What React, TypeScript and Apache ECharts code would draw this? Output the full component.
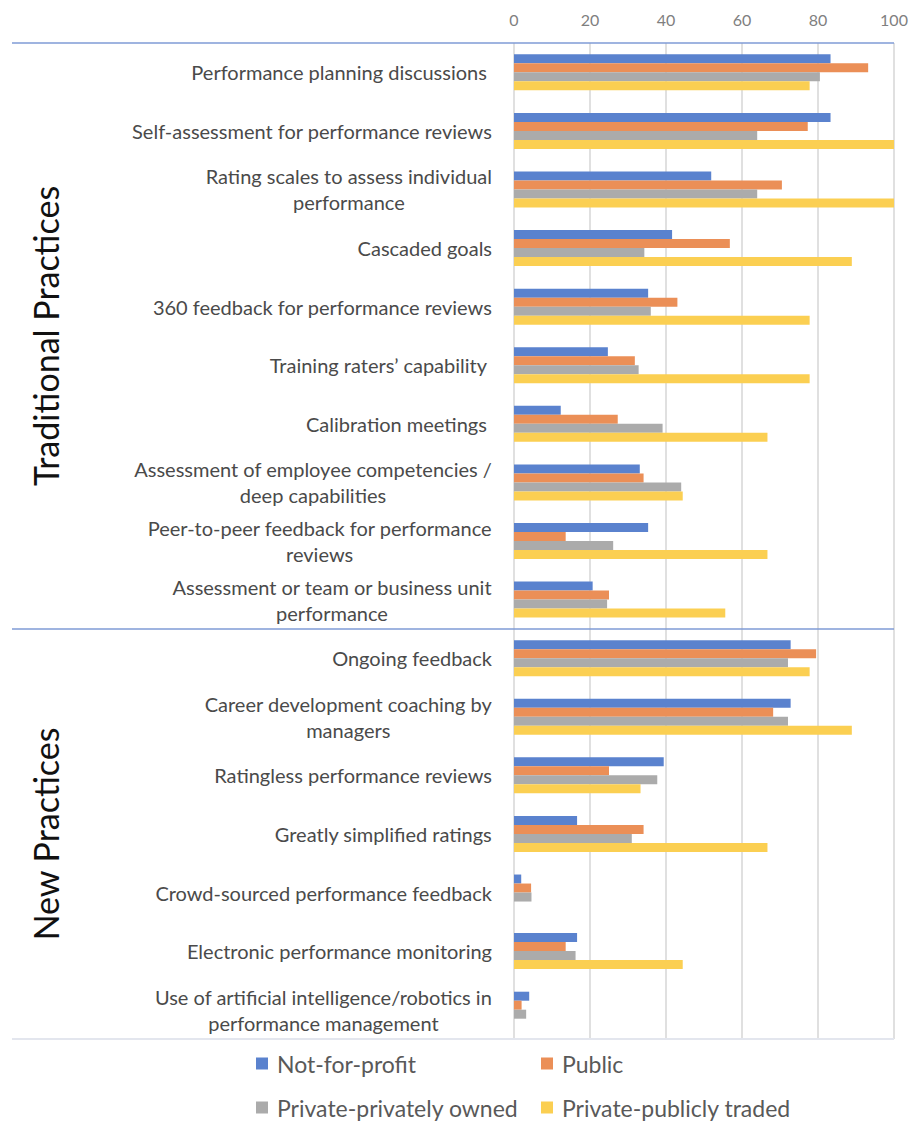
import React, { useEffect, useRef } from "react";
import * as echarts from "echarts";

// Practice names, top to bottom
const categories: string[] = [
  "Performance planning discussions ",
  "Self-assessment for performance reviews",
  "Rating scales to assess individual\nperformance",
  "Cascaded goals",
  "360 feedback for performance reviews",
  "Training raters’ capability ",
  "Calibration meetings ",
  "Assessment of employee competencies /\ndeep capabilities",
  "Peer-to-peer feedback for performance\nreviews",
  "Assessment or team or business unit\nperformance",
  "Ongoing feedback",
  "Career development coaching by\nmanagers",
  "Ratingless performance reviews",
  "Greatly simplified ratings",
  "Crowd-sourced performance feedback",
  "Electronic performance monitoring",
  "Use of artificial intelligence/robotics in\nperformance management",
];

// Number of practices in each group (traditional first, then new)
const groupNames: string[] = ["Traditional Practices", "New Practices"];
const groupSizes: number[] = [10, 7];

const seriesNames: string[] = [
  "Not-for-profit",
  "Public",
  "Private-privately owned",
  "Private-publicly traded",
];

// Percent of organisations using each practice
const notForProfit: number[] = [83.3, 83.3, 51.9, 41.6, 35.3, 24.7, 12.3, 33.1, 35.3, 20.7, 72.8, 72.8, 39.4, 16.6, 1.9, 16.6, 4.0];
const publicSector: number[] = [93.2, 77.3, 70.5, 56.8, 43.0, 31.8, 27.3, 34.1, 13.6, 25.0, 79.5, 68.2, 25.0, 34.1, 4.5, 13.6, 2.0];
const privatelyOwned: number[] = [80.5, 64.0, 64.0, 34.3, 36.0, 32.8, 39.1, 44.0, 26.1, 24.5, 72.1, 72.1, 37.7, 31.0, 4.6, 16.2, 3.2];
const publiclyTraded: number[] = [77.8, 100, 100, 88.9, 77.8, 77.8, 66.7, 44.4, 66.7, 55.6, 77.8, 88.9, 33.3, 66.7, 0, 44.4, 0];

const xTicks: number[] = [0, 20, 40, 60, 80, 100];

const colors = ["#5A82CE", "#EB8F57", "#ABABAB", "#FBCF52"];
const FONT = "Lato, 'Open Sans', sans-serif";
const TEXT = "#4a4a4a";

// Legend slots: 2 x 2 grid (column left edge, row top)
const legendLeft = [256, 541, 256, 541];
const legendTop = [1052, 1052, 1096, 1096];
const legendOrder = [0, 1, 2, 3];

export default function App() {
  const ref = useRef<HTMLDivElement>(null);

  useEffect(() => {
    if (!ref.current) return;
    const chart = echarts.init(ref.current, undefined, { renderer: "svg" });
    const values = [notForProfit, publicSector, privatelyOwned, publiclyTraded];

    chart.setOption({
      animation: false,
      backgroundColor: "#ffffff",
      textStyle: { fontFamily: FONT },
      grid: { left: 514, right: 17, top: 43, bottom: 83, containLabel: false },
      xAxis: {
        type: "value",
        position: "top",
        min: xTicks[0],
        max: xTicks[xTicks.length - 1],
        interval: xTicks[1] - xTicks[0],
        axisLine: { show: false },
        axisTick: { show: false },
        axisLabel: { color: "#7f7f7f", fontSize: 16, margin: 16, fontFamily: FONT },
        splitLine: { show: true, lineStyle: { color: "#d6d6d6", width: 1.5 } },
      },
      yAxis: {
        type: "category",
        inverse: true,
        data: categories,
        axisLine: { show: false },
        axisTick: { show: false },
        axisLabel: {
          margin: 22,
          formatter: (v: string) =>
            v.split("\n").map((l) => `{c|${l}}`).join("\n"),
          rich: {
            c: {
              align: "center",
              fontSize: 20,
              lineHeight: 26,
              color: TEXT,
              fontFamily: FONT,
            },
          },
        },
      },
      legend: legendOrder.map((s, k) => ({
        data: [seriesNames[s]],
        orient: "horizontal",
        left: legendLeft[k],
        top: legendTop[k],
        padding: 0,
        itemWidth: 12,
        itemHeight: 12,
        icon: "rect",
        selectedMode: false,
        textStyle: { fontSize: 23, color: "#595959", fontFamily: FONT, padding: [0, 0, 0, 4] },
      })),
      series: seriesNames.map((name, i) => ({
        name,
        type: "bar",
        data: values[i],
        barWidth: 9,
        barGap: "0%",
        itemStyle: { color: colors[i] },
      })),
    });

    // Separator lines and rotated group titles, positioned from the axis scale
    const yAt = (i: number) => chart.convertToPixel({ yAxisIndex: 0 }, categories[i]) as number;
    const xRight = chart.convertToPixel({ xAxisIndex: 0 }, xTicks[xTicks.length - 1]) as number;
    const band = yAt(1) - yAt(0);
    const xLeft = 12;
    const lineAt = (y: number, color: string, w: number) => ({
      type: "line",
      shape: { x1: xLeft, y1: y, x2: xRight, y2: y },
      style: { stroke: color, lineWidth: w },
      silent: true,
    });

    const graphics: any[] = [];
    let start = 0;
    groupSizes.forEach((size, g) => {
      const top = yAt(start) - band / 2;
      graphics.push(lineAt(top, "#7f9bd6", 1.5));
      const mid = (yAt(start) + yAt(start + size - 1)) / 2;
      graphics.push({
        type: "text",
        x: 45,
        y: mid,
        rotation: Math.PI / 2,
        style: {
          text: groupNames[g],
          fontSize: 34,
          fontFamily: FONT,
          fill: "#111111",
          align: "center",
          verticalAlign: "middle",
        },
        silent: true,
      });
      start += size;
    });
    graphics.push(lineAt(yAt(categories.length - 1) + band / 2, "#e3e6ee", 2));

    chart.setOption({ graphic: graphics });

    return () => chart.dispose();
  }, []);

  return (
    <div
      ref={ref}
      style={{ position: "fixed", left: 0, top: 0, width: 911, height: 1122 }}
    />
  );
}
